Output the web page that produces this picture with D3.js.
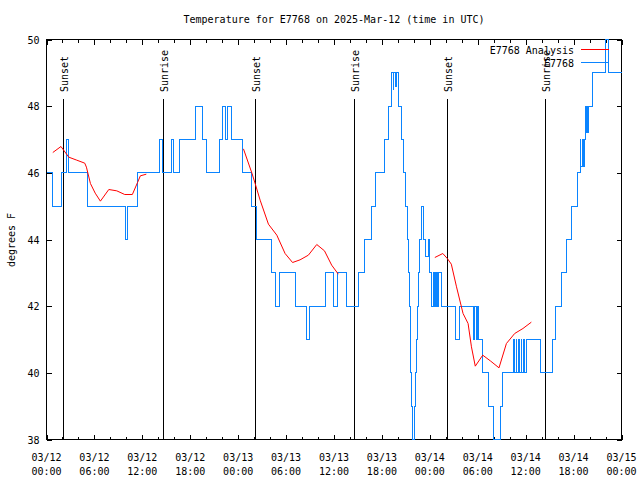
<!DOCTYPE html>
<html><head><meta charset="utf-8">
<script src="https://cdn.jsdelivr.net/npm/d3@7"></script>
<style>
body{margin:0;background:#fff}
svg text{font-family:"DejaVu Sans Mono",monospace;font-size:10px;fill:#000}
</style>
</head><body><svg id="c" width="640" height="480"></svg>
<script>
const chartTitle = "Temperature for E7768 on 2025-Mar-12 (time in UTC)";
const yLabel = "degrees F";
const seriesNames = ["E7768 Analysis", "E7768"];
const yTicks = [38, 40, 42, 44, 46, 48, 50];

// observed temperature (hours since 2025-03-12 00:00 UTC, deg F), value holds until next entry
const obsHours = [0,0.81,1.875,2.54,2.79,5.125,9.875,10.125,11.44,14.19,14.56,15.625,15.875,16.625,18.625,19.56,20,21.625,22,22.375,22.625,23.125,24.56,25.625,26.31,28.125,28.625,29.125,31.19,32.5,32.875,34.94,35.94,36.5,37.56,39.06,39.81,40.75,41.19,42.31,42.81,43.19,43.4,43.5,43.7,43.85,44.125,44.44,44.69,44.94,45.19,45.375,45.46,45.54,45.625,45.75,45.875,46.06,46.19,46.31,46.44,46.56,46.75,47,47.25,47.5,47.81,48,
  48.16,48.46,48.56,48.66,48.81,48.91,49.04,49.14,49.44,51.25,51.75,53.41,53.54,53.81,53.91,54.06,54.56,55.375,56,56.81,57.06,
  58.5,58.6,58.81,58.91,59.125,59.225,59.44,59.54,59.75,59.85,60.06,61.875,63.31,63.75,64.5,65.06,65.69,66.5,
  66.81,66.91,67.125,67.225,67.31,67.5,67.6,67.725,67.825,67.91,68.375,70,70.31,72];
const obsTemps = [46,45,46,47,46,45,44,45,46,47,46,47,46,47,48,47,46,47,48,47,48,47,46,45,44,43,42,43,42,41,42,43,42,43,42,43,44,45,46,47,48,49,48.5,49,48.6,49,48,47,46,45,44,43,42,41,40,39,38,39,40,41,42,43,44,45,44,43.5,44,43,
  42,43,42,43,42,43,42,43,42,41,42,41,42,41,42,41,40,39,38,39,40,
  41,40,41,40,41,40,41,40,41,40,41,40,41,42,43,44,45,46,
  47,46.2,47,46.2,47,48,47.2,48,47.2,48,49,50,49,49];

// analysis (null = gap)
const anaHours = [0.79,1.81,2.79,3.79,4.79,5.0,5.5,6.1,6.75,7.8,8.8,9.8,10.75,11.4,11.75,12.5,null,
  24.66,25.75,26.125,26.75,27.79,28.84,29.875,30.81,31.75,32.79,33.84,34.81,35.71,36.54,null,
  48.625,49.625,50.19,50.69,51.34,52.16,52.79,53.21,53.69,54.625,55.625,56.66,57.59,58.625,59.66,60.71];
const anaTemps = [46.61,46.79,46.47,46.38,46.29,46.17,45.68,45.39,45.15,45.5,45.46,45.35,45.35,45.71,45.91,45.96,null,
  46.72,45.97,45.68,45.18,44.46,44.13,43.58,43.31,43.39,43.53,43.85,43.66,43.23,42.96,null,
  43.46,43.58,43.43,43.26,42.58,41.78,41.48,40.78,40.2,40.53,40.35,40.15,40.88,41.18,41.33,41.52];

const sunHours = [2.125, 14.54, 26.125, 38.54, 50.16, 62.41];
const sunLabels = ["Sunset", "Sunrise", "Sunset", "Sunrise", "Sunset", "Sunrise"];

const T0 = Date.UTC(2025, 2, 12);
const toDate = h => new Date(T0 + h * 3600e3);

const svg = d3.select("#c");
svg.append("rect").attr("width", 640).attr("height", 480).attr("fill", "#fff");

const x = d3.scaleUtc().domain([new Date(T0), new Date(Date.UTC(2025, 2, 15))]).range([46.5, 621.5]);
const y = d3.scaleLinear().domain([38, 50]).range([439.5, 39.5]);

// minor & major ticks (bottom/top)
const minorB = d3.axisBottom(x).ticks(d3.utcHour.every(2)).tickSize(-3).tickSizeOuter(0).tickFormat("");
const majorB = d3.axisBottom(x).ticks(d3.utcHour.every(6)).tickSize(-5).tickSizeOuter(0).tickFormat("");
const minorT = d3.axisTop(x).ticks(d3.utcHour.every(2)).tickSize(-3).tickSizeOuter(0).tickFormat("");
const majorT = d3.axisTop(x).ticks(d3.utcHour.every(6)).tickSize(-5).tickSizeOuter(0).tickFormat("");
[[minorB, 439.5], [majorB, 439.5], [minorT, 39.5], [majorT, 39.5]].forEach(([ax, ty]) => {
  const g = svg.append("g").attr("transform", `translate(0,${ty})`).call(ax);
  g.select(".domain").remove();
  g.selectAll("line").attr("stroke", "#000").attr("shape-rendering", "crispEdges");
});
const yl = svg.append("g").attr("transform", "translate(46.5,0)")
  .call(d3.axisLeft(y).tickValues(yTicks).tickSize(-5).tickSizeOuter(0).tickPadding(7));
yl.select(".domain").remove();
yl.selectAll("line").attr("stroke", "#000").attr("shape-rendering", "crispEdges");
yl.selectAll("text").attr("dy", "0.35em");
yl.attr("font-family", null).attr("font-size", null);
const yr = svg.append("g").attr("transform", "translate(621.5,0)")
  .call(d3.axisRight(y).tickValues(yTicks).tickSize(-5).tickSizeOuter(0).tickFormat(""));
yr.select(".domain").remove();
yr.selectAll("line").attr("stroke", "#000").attr("shape-rendering", "crispEdges");

// x labels
const fmtD = d3.utcFormat("%m/%d"), fmtH = d3.utcFormat("%H:%M");
const xl = svg.append("g");
x.ticks(d3.utcHour.every(6)).forEach(d => {
  const t = xl.append("text").attr("text-anchor", "middle");
  t.append("tspan").attr("x", x(d)).attr("y", 461).text(fmtD(d));
  t.append("tspan").attr("x", x(d)).attr("y", 475).text(fmtH(d));
});

// border
svg.append("rect").attr("x", 46.5).attr("y", 39.5).attr("width", 575).attr("height", 400)
  .attr("fill", "none").attr("stroke", "#000").attr("shape-rendering", "crispEdges");

// sun lines
sunHours.forEach((h, i) => {
  const sx = Math.round(x(toDate(h))) + 0.5;
  svg.append("line").attr("x1", sx).attr("x2", sx).attr("y1", 99).attr("y2", 439.5)
    .attr("stroke", "#000").attr("shape-rendering", "crispEdges");
  svg.append("text").attr("transform", `translate(${sx + 4.5},92) rotate(-90)`)
    .attr("text-anchor", "start").text(sunLabels[i]);
});

// observed series
const obs = obsHours.map((h, i) => [toDate(h), obsTemps[i]]);
svg.append("path").datum(obs)
  .attr("d", d3.line().x(d => x(d[0])).y(d => y(d[1])).curve(d3.curveStepAfter))
  .attr("fill", "none").attr("stroke", "#0a84ff").attr("stroke-width", 1)
  .attr("shape-rendering", "crispEdges");

// analysis series
const ana = anaHours.map((h, i) => [h, anaTemps[i]]);
svg.append("path").datum(ana)
  .attr("d", d3.line().defined(d => d[0] !== null).x(d => x(toDate(d[0]))).y(d => y(d[1])))
  .attr("fill", "none").attr("stroke", "#ff0000").attr("stroke-width", 1);

// title & y label
svg.append("text").attr("x", 334).attr("y", 23).attr("text-anchor", "middle").text(chartTitle);
svg.append("text").attr("transform", "translate(15,240) rotate(-90)").attr("text-anchor", "middle").text(yLabel);

// legend
const legColors = ["#ff0000", "#0a84ff"];
seriesNames.forEach((n, i) => {
  const ly = 49.5 + i * 13;
  svg.append("text").attr("x", 574).attr("y", ly + 4).attr("text-anchor", "end").text(n);
  svg.append("line").attr("x1", 581).attr("x2", 609).attr("y1", ly).attr("y2", ly)
    .attr("stroke", legColors[i]).attr("shape-rendering", "crispEdges");
});
</script>
</body></html>
